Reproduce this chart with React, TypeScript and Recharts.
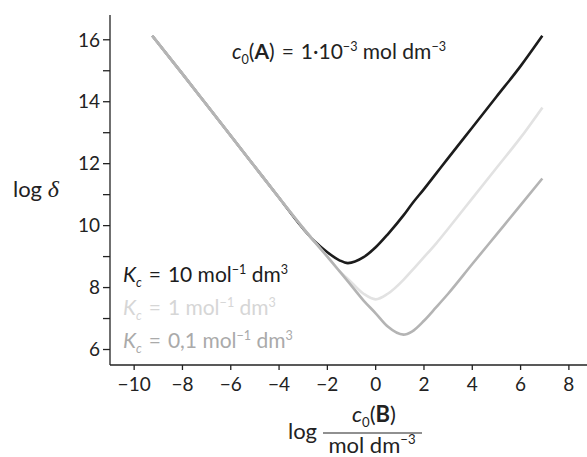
import { LineChart, Line, XAxis, YAxis } from 'recharts'

// log c0(B) sample positions
const logB = [-9.25, -8, -7, -6, -5, -4, -3, -2.5, -2, -1.5, -1.15, -0.5, 0, 0.5, 1.15, 1.5, 2, 2.5, 3, 4, 5, 6, 6.9]

// log delta for each Kc
const kc10 = [16.13, 14.9, 13.9, 12.9, 11.9, 10.9, 9.9, 9.47, 9.14, 8.88, 8.79, 8.98, 9.3, 9.72, 10.33, 10.7, 11.18, 11.68, 12.18, 13.17, 14.16, 15.15, 16.13]
const kc1 = [16.13, 14.9, 13.9, 12.9, 11.9, 10.9, 9.92, 9.45, 9.0, 8.53, 8.28, 7.8, 7.62, 7.8, 8.25, 8.55, 8.98, 9.42, 9.9, 10.88, 11.86, 12.84, 13.81]
const kc01 = [16.13, 14.9, 13.9, 12.9, 11.9, 10.9, 9.92, 9.45, 9.0, 8.53, 8.2, 7.58, 7.17, 6.74, 6.48, 6.58, 6.93, 7.36, 7.8, 8.76, 9.71, 10.66, 11.52]

const xTicks = [-10, -8, -6, -4, -2, 0, 2, 4, 6, 8]
const yTicks = [6, 7, 8, 9, 10, 11, 12, 13, 14, 15, 16]

const FONT = 'Lato, "Open Sans", sans-serif'
const INK = '#222'
const BLACK = '#1c1c1c'
const LIGHT = '#e2e2e2'
const MID = '#b4b4b4'
const SP = '\u2004'

const chartData = logB.map((x, i) => ({ x, kc10: kc10[i], kc1: kc1[i], kc01: kc01[i] }))

type Part = { t: string; k?: 'i' | 'b' | 'sub' | 'sup' | 'isub' }

// renders a run of text with italic / bold / sub / sup parts using dy shifts
function Rich({ x, y, parts, size, fill, anchor = 'start' }: { x: number; y: number; parts: Part[]; size: number; fill: string; anchor?: 'start' | 'middle' | 'end' }) {
    let shift = 0
    return (
        <text x={x} y={y} fontSize={size} fill={fill} fontFamily={FONT} textAnchor={anchor}>
            {parts.map((p, i) => {
                let target = 0
                if (p.k === 'sub' || p.k === 'isub') target = size * 0.22
                if (p.k === 'sup') target = -size * 0.4
                const dy = target - shift
                shift = target
                const small = p.k === 'sub' || p.k === 'sup' || p.k === 'isub'
                return (
                    <tspan
                        key={i}
                        dy={dy}
                        fontSize={small ? size * 0.6 : size}
                        fontStyle={p.k === 'i' || p.k === 'isub' ? 'italic' : 'normal'}
                        fontWeight={p.k === 'b' ? 700 : 400}
                    >
                        {p.t}
                    </tspan>
                )
            })}
        </text>
    )
}

const fmtX = (v: number) => (v < 0 ? '\u2212' + Math.abs(v) : String(v))
const fmtY = (v: number) => (v % 2 === 0 ? String(v) : '')

export default function App() {
    const legend: { val: string; color: string; y: number }[] = [
        { val: '10', color: BLACK, y: 282 },
        { val: '1', color: '#d6d6d6', y: 315 },
        { val: '0,1', color: '#aaaaaa', y: 348 },
    ]

    return (
        <div style={{ position: 'fixed', left: 0, top: 0, width: 587, height: 457, background: '#fff', fontFamily: FONT }}>
            <LineChart width={587} height={457} data={chartData} margin={{ top: 15, right: 0, left: 0, bottom: 0 }}>
                <XAxis
                    dataKey="x"
                    type="number"
                    domain={[-11, 8.75]}
                    ticks={xTicks}
                    interval={0}
                    allowDataOverflow
                    height={92}
                    tickSize={5}
                    tickMargin={8}
                    tickFormatter={fmtX}
                    stroke={INK}
                    strokeWidth={1.3}
                    tick={{ fill: INK, fontSize: 19, fontFamily: FONT }}
                />
                <YAxis
                    type="number"
                    domain={[5.5, 16.8]}
                    ticks={yTicks}
                    interval={0}
                    allowDataOverflow
                    width={110}
                    tickSize={7}
                    tickMargin={3}
                    tickFormatter={fmtY}
                    stroke={INK}
                    strokeWidth={1.3}
                    tick={{ fill: INK, fontSize: 19, fontFamily: FONT }}
                />
                <Line type="monotone" dataKey="kc10" stroke={BLACK} strokeWidth={2.6} dot={false} isAnimationActive={false} />
                <Line type="monotone" dataKey="kc1" stroke={LIGHT} strokeWidth={2.6} dot={false} isAnimationActive={false} />
                <Line type="monotone" dataKey="kc01" stroke={MID} strokeWidth={2.6} dot={false} isAnimationActive={false} />
            </LineChart>

            <svg width={587} height={457} style={{ position: 'absolute', left: 0, top: 0, pointerEvents: 'none' }}>
                {/* title */}
                <Rich
                    x={232}
                    y={59}
                    size={21}
                    fill={INK}
                    parts={[
                        { t: 'c', k: 'i' }, { t: '0', k: 'sub' }, { t: '(' }, { t: 'A', k: 'b' },
                        { t: ')' + SP + '=' + SP + '1\u00b710' }, { t: '\u22123', k: 'sup' }, { t: ' mol dm' }, { t: '\u22123', k: 'sup' },
                    ]}
                />

                {/* Kc legend */}
                {legend.map((l) => (
                    <Rich
                        key={l.val}
                        x={123}
                        y={l.y}
                        size={21}
                        fill={l.color}
                        parts={[
                            { t: 'K', k: 'i' }, { t: 'c', k: 'isub' }, { t: SP + '=' + SP + l.val + ' mol' },
                            { t: '\u22121', k: 'sup' }, { t: ' dm' }, { t: '3', k: 'sup' },
                        ]}
                    />
                ))}

                {/* y label */}
                <text x={13} y={197} fontSize={22} fill={INK} fontFamily={FONT}>
                    log <tspan fontFamily='"Liberation Serif", serif' fontStyle="italic" fontSize={24}>δ</tspan>
                </text>

                {/* x label */}
                <text x={288} y={439} fontSize={22} fill={INK} fontFamily={FONT}>log</text>
                <Rich
                    x={374}
                    y={422}
                    size={22}
                    fill={INK}
                    anchor="middle"
                    parts={[{ t: 'c', k: 'i' }, { t: '0', k: 'sub' }, { t: '(' }, { t: 'B', k: 'b' }, { t: ')' }]}
                />
                <line x1={323} x2={422} y1={433} y2={433} stroke={INK} strokeWidth={1.2} />
                <Rich
                    x={372}
                    y={453}
                    size={22}
                    fill={INK}
                    anchor="middle"
                    parts={[{ t: 'mol dm' }, { t: '\u22123', k: 'sup' }]}
                />
            </svg>
        </div>
    )
}
